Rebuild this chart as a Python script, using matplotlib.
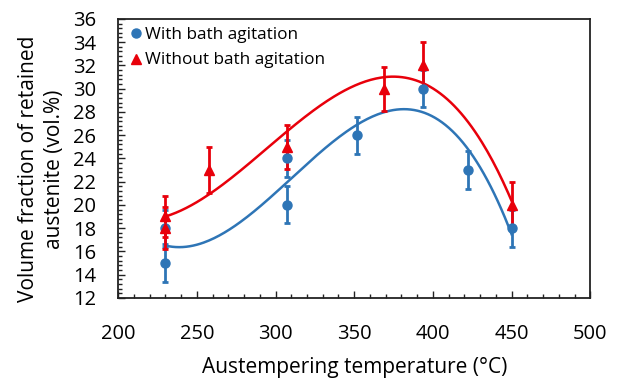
import numpy as np
import matplotlib.pyplot as plt
from matplotlib.ticker import MultipleLocator

plt.rcParams['font.family'] = ['Open Sans', 'DejaVu Sans']

# with bath agitation
t_with = [230, 230, 307, 307, 352, 394, 422, 450]
v_with = [18, 15, 24, 20, 26, 30, 23, 18]
e_with = [1.6, 1.6, 1.6, 1.6, 1.6, 1.6, 1.6, 1.6]

# without bath agitation
t_without = [230, 230, 258, 307, 369, 394, 450]
v_without = [19, 18, 23, 25, 30, 32, 20]
e_without = [1.8, 1.8, 2.0, 1.9, 1.9, 2.0, 2.0]

blue = '#2E75B6'
red = '#E8000B'

fig = plt.figure(figsize=(6.32, 3.78), dpi=100)
ax = fig.add_axes([0.187, 0.212, 0.747, 0.738])

# polynomial trendlines (order 3) fitted to the data
xs = np.linspace(230, 450, 200)
p_with = np.polyfit(t_with, v_with, 3)
p_without = np.polyfit(t_without, v_without, 3)
ax.plot(xs, np.polyval(p_with, xs), color=blue, lw=1.8)
ax.plot(xs, np.polyval(p_without, xs), color=red, lw=1.8)

ax.errorbar(t_with, v_with, yerr=e_with, fmt='none', ecolor=blue,
            elinewidth=2, capsize=2.5, capthick=2)
ax.errorbar(t_without, v_without, yerr=e_without, fmt='none', ecolor=red,
            elinewidth=2, capsize=2.5, capthick=2)
ax.plot(t_with, v_with, 'o', color=blue, ms=6.5, label='With bath agitation')
ax.plot(t_without, v_without, '^', color=red, ms=7, label='Without bath agitation')

ax.set_xlim(200, 500)
ax.set_ylim(12, 36)
ax.xaxis.set_major_locator(MultipleLocator(50))
ax.xaxis.set_minor_locator(MultipleLocator(10))
ax.yaxis.set_major_locator(MultipleLocator(2))
ax.yaxis.set_minor_locator(MultipleLocator(0.4))
ax.tick_params(which='both', direction='in', labelsize=14.5, color='#222222', width=1)
ax.tick_params(which='major', length=5)
ax.tick_params(which='minor', length=3)
ax.tick_params(axis='y', pad=16)
ax.tick_params(axis='x', pad=19)
ax.tick_params(axis='x', which='both', top=False)
for s in ax.spines.values():
    s.set_linewidth(1.3)
    s.set_color('#222222')

ax.set_xlabel('Austempering temperature (°C)', fontsize=15, labelpad=9)
ax.set_ylabel('Volume fraction of retained\naustenite (vol.%)', fontsize=15,
              linespacing=1.35)
ax.yaxis.set_label_coords(-0.112, 0.462)

leg = ax.legend(loc='upper left', bbox_to_anchor=(0.006, 0.989), frameon=False,
                fontsize=12.3, handletextpad=0.0, handlelength=1.1,
                borderaxespad=0.1, borderpad=0.2, labelspacing=0.55)

fig.savefig('out.png', dpi=100)
